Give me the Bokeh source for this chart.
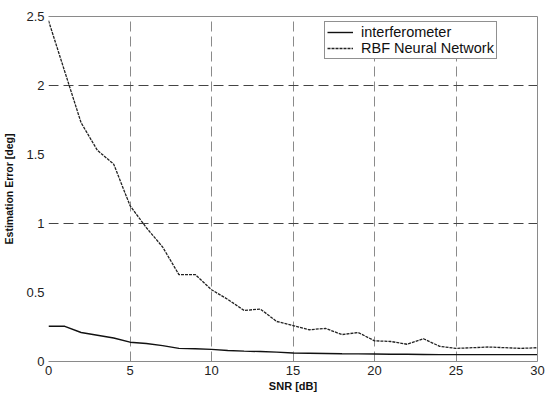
from bokeh.plotting import figure
from bokeh.models import Range1d, FixedTicker, LinearAxis, Legend, LegendItem, Grid
from bokeh.embed import file_html
from bokeh.resources import INLINE

snr = list(range(0, 31))
rbf = [2.47, 2.10, 1.73, 1.53, 1.43, 1.13, 0.97, 0.83, 0.63, 0.63,
       0.52, 0.45, 0.37, 0.38, 0.29, 0.26, 0.23, 0.24, 0.195, 0.21,
       0.15, 0.145, 0.125, 0.165, 0.11, 0.095, 0.10, 0.105, 0.10, 0.095, 0.10]
interf = [0.255, 0.255, 0.21, 0.19, 0.17, 0.14, 0.13, 0.115, 0.095, 0.092,
          0.088, 0.08, 0.075, 0.072, 0.068, 0.062, 0.06, 0.058, 0.056, 0.055,
          0.054, 0.052, 0.052, 0.051, 0.05, 0.05, 0.05, 0.05, 0.05, 0.05, 0.05]
x_ticks = [0, 5, 10, 15, 20, 25, 30]
y_ticks = [0, 0.5, 1, 1.5, 2, 2.5]
x_grid = [5, 10, 15, 20, 25]
y_grid = [1, 2]

TICK_FONT = "Liberation Sans"
TITLE_FONT = "Liberation Sans"

p = figure(width=547, height=394, output_backend="svg", toolbar_location=None,
           x_range=Range1d(0, 30), y_range=Range1d(0, 2.5),
           min_border_left=4, min_border_right=10, min_border_top=16, min_border_bottom=0)
p.outline_line_color = None
p.background_fill_color = "white"
p.border_fill_color = "white"

p.xgrid.visible = False
p.ygrid.visible = False
p.add_layout(Grid(dimension=0, ticker=FixedTicker(ticks=x_grid), grid_line_color="#8a8a8a",
                  grid_line_dash="10 5", grid_line_width=1))
p.add_layout(Grid(dimension=1, ticker=FixedTicker(ticks=y_grid), grid_line_color="#444444",
                  grid_line_dash="10 5", grid_line_width=1))

for ax, ticks in ((p.xaxis[0], x_ticks), (p.yaxis[0], y_ticks)):
    ax.ticker = FixedTicker(ticks=ticks)
    ax.major_tick_in = 0
    ax.major_tick_out = 0
    ax.minor_tick_in = 0
    ax.minor_tick_out = 0
    ax.major_label_text_font = TICK_FONT
    ax.major_label_text_font_size = "13px"
    ax.major_label_text_color = "#222222"
    ax.axis_label_text_font = TITLE_FONT
    ax.axis_label_text_font_style = "bold"
    ax.axis_label_text_color = "#111111"

p.xaxis.axis_label = "SNR [dB]"
p.xaxis.axis_label_text_font_size = "11px"
p.xaxis.axis_line_color = "#8a8a8a"
p.xaxis.major_label_standoff = 4
p.xaxis.axis_label_standoff = 2
p.yaxis.axis_label = "Estimation Error [deg]"
p.yaxis.axis_label_text_font_size = "10.5px"
p.yaxis.axis_line_color = None
p.yaxis.major_label_standoff = 4
p.yaxis.axis_label_standoff = 8

top = LinearAxis(ticker=FixedTicker(ticks=[]), major_label_text_font_size="0px",
                 axis_line_color="#8a8a8a", major_tick_out=0, minor_tick_out=0)
right = LinearAxis(ticker=FixedTicker(ticks=[]), major_label_text_font_size="0px",
                   axis_line_color="#8a8a8a", major_tick_out=0, minor_tick_out=0)
p.add_layout(top, "above")
p.add_layout(right, "right")

r1 = p.line(snr, interf, line_color="#111111", line_width=1.4)
r2 = p.line(snr, rbf, line_color="#222222", line_width=1.3, line_dash="3 1")

legend = Legend(items=[LegendItem(label="interferometer", renderers=[r1]),
                       LegendItem(label="RBF Neural Network", renderers=[r2])],
                location=(276, 302))
legend.border_line_color = "#222222"
legend.border_line_width = 1
legend.label_text_font = TICK_FONT
legend.label_text_font_size = "14.5px"
legend.label_text_color = "#111111"
legend.glyph_width = 26
legend.glyph_height = 14
legend.label_height = 14
legend.spacing = 0
legend.margin = 0
legend.label_standoff = 8
legend.background_fill_alpha = 1
legend.padding = 2
p.add_layout(legend)

open("out.html", "w").write(file_html(p, INLINE))
